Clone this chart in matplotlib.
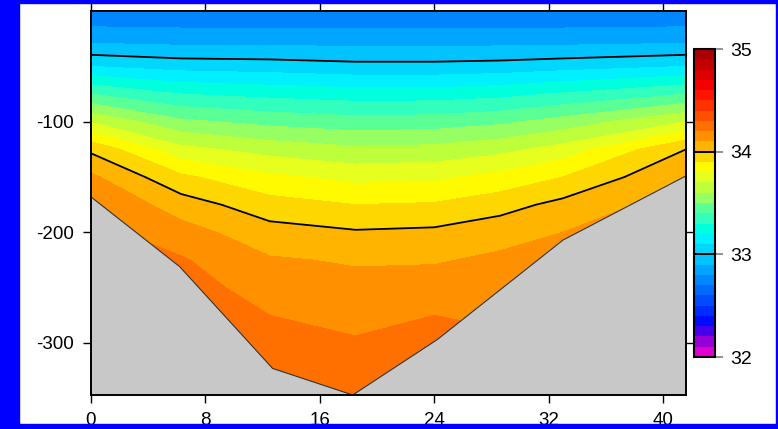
import numpy as np
import matplotlib
matplotlib.use('Agg')
import matplotlib.pyplot as plt
from matplotlib.colors import ListedColormap, BoundaryNorm
from matplotlib.patches import Rectangle

plt.rcParams['font.family'] = ['Liberation Sans', 'DejaVu Sans']
plt.rcParams['axes.unicode_minus'] = False

# station distance along the section and depth of the samples
dist = [0, 6.3, 12.5, 18.5, 24, 28.6, 33, 41.6]
depth = [0, 25, 50, 75, 100, 125, 150, 175, 200, 225, 250, 275, 300, 325, 350]

# salinity, one row per depth, one column per station
salt = [
    [32.72, 32.72, 32.71, 32.71, 32.71, 32.71, 32.72, 32.72],
    [32.86, 32.85, 32.85, 32.85, 32.85, 32.85, 32.85, 32.86],
    [33.10, 33.06, 33.05, 33.03, 33.03, 33.04, 33.06, 33.10],
    [33.40, 33.30, 33.27, 33.25, 33.25, 33.27, 33.31, 33.40],
    [33.69, 33.52, 33.47, 33.44, 33.45, 33.48, 33.54, 33.70],
    [33.98, 33.73, 33.66, 33.62, 33.63, 33.67, 33.74, 34.00],
    [34.12, 33.92, 33.82, 33.77, 33.78, 33.83, 33.90, 34.10],
    [34.20, 34.05, 33.94, 33.90, 33.91, 33.96, 34.03, 34.15],
    [34.23, 34.14, 34.04, 34.01, 34.02, 34.06, 34.10, 34.18],
    [34.25, 34.21, 34.11, 34.09, 34.09, 34.12, 34.15, 34.20],
    [34.27, 34.24, 34.16, 34.13, 34.15, 34.17, 34.18, 34.21],
    [34.28, 34.26, 34.20, 34.17, 34.20, 34.19, 34.20, 34.22],
    [34.29, 34.27, 34.23, 34.21, 34.23, 34.21, 34.21, 34.23],
    [34.30, 34.28, 34.26, 34.24, 34.25, 34.22, 34.22, 34.24],
    [34.31, 34.29, 34.28, 34.27, 34.27, 34.23, 34.23, 34.25],
]

# sea floor along the section
bottom_dist = [0, 6.2, 12.7, 18.3, 24.2, 28.6, 33, 41.6]
bottom_depth = [168, 231, 323, 347, 297, 252, 207, 149]

cbar_ticks = [32, 33, 34, 35]

# odv-like palette, one colour per 0.1 step
rgb = [
    (225, 0, 205), (150, 0, 215), (70, 0, 235), (0, 10, 255), (0, 45, 255),
    (0, 75, 255), (0, 105, 255), (0, 135, 255), (0, 165, 255), (0, 195, 255),
    (0, 215, 255), (0, 240, 255), (0, 255, 220), (50, 255, 190), (90, 255, 150),
    (150, 255, 100), (190, 255, 60), (230, 255, 30), (255, 250, 0), (255, 215, 0),
    (255, 180, 0), (255, 145, 0), (255, 112, 0), (255, 80, 0), (255, 50, 0),
    (255, 20, 0), (245, 0, 0), (220, 0, 0), (195, 0, 0), (170, 0, 0),
]
cmap = ListedColormap([(r / 255, g / 255, b / 255) for r, g, b in rgb])
levels = np.round(np.arange(32, 35.001, 0.1), 1)
norm = BoundaryNorm(levels, cmap.N)

W, H = 778, 429
fig = plt.figure(figsize=(W / 100, H / 100), dpi=100, facecolor='white')

ax = fig.add_axes([91 / W, (H - 395) / H, 595 / W, 384 / H])
X, Z = np.meshgrid(dist, -np.array(depth))
S = np.array(salt)
cf = ax.contourf(X, Z, S, levels=levels, cmap=cmap, norm=norm)
ax.contour(X, Z, S, levels=[33, 34], colors='black', linewidths=1.3)

bd = -np.array(bottom_depth)
ax.fill_between(bottom_dist, bd, -400, facecolor='#c8c8c8', edgecolor='none', zorder=3)
ax.plot(bottom_dist, bd, color='#333333', lw=0.8, zorder=4)

ax.set_xlim(0, 41.6)
ax.set_ylim(-347, 0)
ax.set_xticks(range(0, 41, 8))
ax.set_yticks([-300, -200, -100])
ax.tick_params(direction='out', length=6, width=1, labelsize=13.5, pad=6,
               top=True, right=True)
for sp in ax.spines.values():
    sp.set_linewidth(1.4)
    sp.set_zorder(5)

cax = fig.add_axes([694 / W, (H - 357) / H, 21 / W, 308 / H])
cb = fig.colorbar(cf, cax=cax, ticks=cbar_ticks)
cb.minorticks_off()
cb.outline.set_linewidth(1.5)
cax.tick_params(length=6, width=1.2, color='gray', labelsize=14, pad=5)
cax.axhline(33, color='black', lw=1.4)
cax.axhline(34, color='black', lw=1.4)

# blue frame around the picture
for rect in [(0, 0, 19 / W, 1), (0, (H - 3) / H, 1, 3 / H),
             (776 / W, 0, 2 / W, 1), (0, 0, 1, 5 / H)]:
    fig.add_artist(Rectangle(rect[:2], rect[2], rect[3], transform=fig.transFigure,
                             color='blue', zorder=10))

fig.savefig('out.png', dpi=100, facecolor=fig.get_facecolor())
